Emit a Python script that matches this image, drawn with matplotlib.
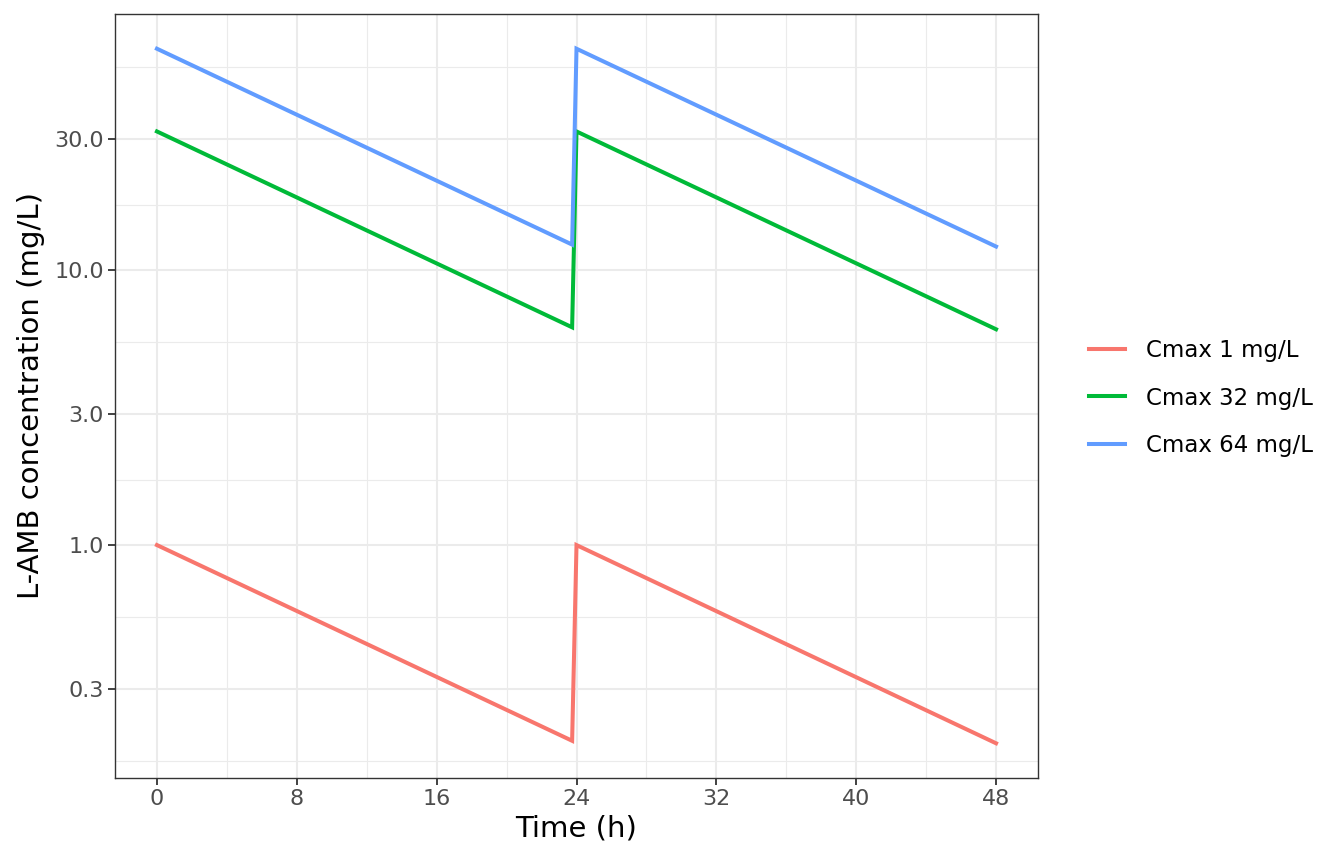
import numpy as np
import matplotlib
matplotlib.use("Agg")
import matplotlib.pyplot as plt
from matplotlib.lines import Line2D

# Data (time in h, concentration in mg/L)
time_h = [0, 23.75, 24.0, 48.0]
cmax1 = [1.0, 0.194, 1.0, 0.19]
cmax32 = [32.0, 6.2, 32.0, 6.1]
cmax64 = [64.0, 12.4, 64.0, 12.2]
series_labels = ["Cmax 1 mg/L", "Cmax 32 mg/L", "Cmax 64 mg/L"]
series_colors = ["#F8766D", "#00BA38", "#619CFF"]
x_ticks = [0, 8, 16, 24, 32, 40, 48]
y_ticks = [0.3, 1.0, 3.0, 10.0, 30.0]
y_ticklabels = ["0.3", "1.0", "3.0", "10.0", "30.0"]

W, H = 1344, 864
fig = plt.figure(figsize=(W / 100, H / 100), dpi=100)
L, R, T, B = 115, 1038, 14, 778
ax = fig.add_axes([L / W, 1 - B / H, (R - L) / W, (B - T) / H])

ax.set_yscale("log")
# ggplot-like expansion
ymin, ymax = np.log10(min(cmax1)), np.log10(max(cmax64))
ex = 0.05 * (ymax - ymin)
ax.set_ylim(10 ** (ymin - ex), 10 ** (ymax + ex))
ax.set_xlim(-2.4, 50.4)

# gridlines
lb = np.log10(y_ticks)
bd = lb[1] - lb[0]
ext = np.concatenate([[lb[0] - bd], lb, [lb[-1] + bd]])
minor_y = 10 ** ((ext[:-1] + ext[1:]) / 2)
minor_x = [(a + b) / 2 for a, b in zip(x_ticks[:-1], x_ticks[1:])]
for v in minor_y:
    ax.axhline(v, color="#EBEBEB", lw=0.8, zorder=0)
for v in minor_x:
    ax.axvline(v, color="#EBEBEB", lw=0.8, zorder=0)
for v in y_ticks:
    ax.axhline(v, color="#EBEBEB", lw=1.5, zorder=0)
for v in x_ticks:
    ax.axvline(v, color="#EBEBEB", lw=1.5, zorder=0)

for ys, c in zip([cmax1, cmax32, cmax64], series_colors):
    ax.plot(time_h, ys, color=c, lw=2.9, solid_joinstyle="miter", zorder=3)

ax.set_xticks(x_ticks)
ax.set_xticklabels([str(t) for t in x_ticks])
ax.set_yticks(y_ticks)
ax.set_yticklabels(y_ticklabels)
ax.yaxis.set_minor_locator(matplotlib.ticker.NullLocator())
ax.tick_params(axis="both", which="major", labelsize=16, labelcolor="#4D4D4D",
               color="#333333", length=5, width=1.3, pad=3)
for s in ax.spines.values():
    s.set_color("#333333")
    s.set_linewidth(1.0)

ax.set_xlabel("Time (h)", fontsize=21, color="black", labelpad=4)
ax.set_ylabel("L-AMB concentration (mg/L)", fontsize=21, color="black", labelpad=7)

handles = [Line2D([0], [0], color=c, lw=2.9) for c in series_colors]
fig.legend(handles, series_labels, loc="center left",
           bbox_to_anchor=(1068 / W, 1 - 398 / H), frameon=False,
           fontsize=16.5, handlelength=1.57, handletextpad=0.92,
           labelspacing=1.06)

fig.savefig("out.png", dpi=100)
